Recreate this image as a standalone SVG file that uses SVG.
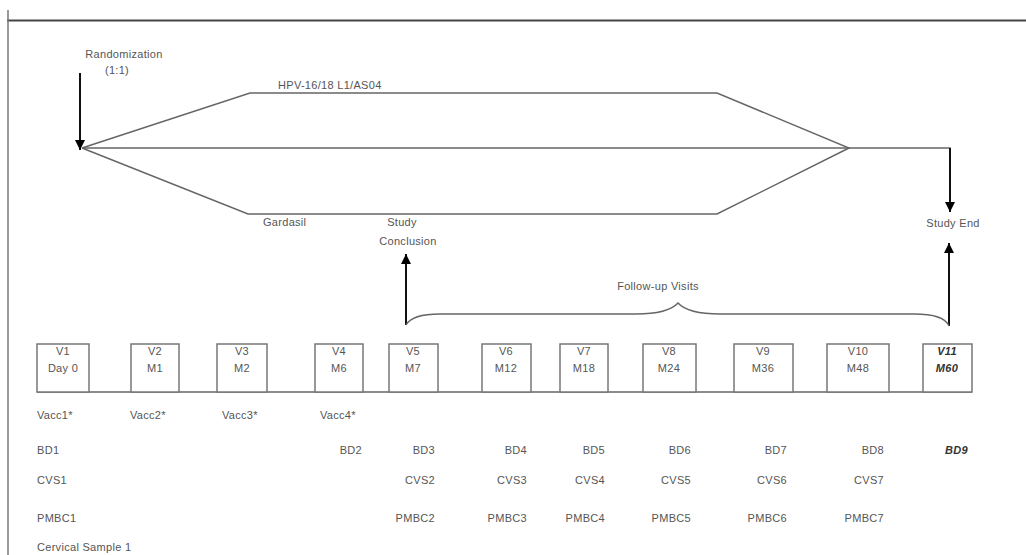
<svg xmlns="http://www.w3.org/2000/svg" width="1026" height="555" viewBox="0 0 1026 555">
<defs>
<marker id="ah" viewBox="0 0 10 10" refX="10" refY="5" markerWidth="5" markerHeight="5" orient="auto" markerUnits="strokeWidth">
<path d="M0,0 L10,5 L0,10 z" fill="#000"/>
</marker>
<style>
.t{font-family:"Liberation Sans",Arial,sans-serif;font-size:11px;fill:#555;letter-spacing:0.3px}
.c{text-anchor:middle}
.r{text-anchor:end}
.ln{fill:none;stroke:#666;stroke-width:1.5}
.ar{fill:none;stroke:#111;stroke-width:2;marker-end:url(#ah)}
.box{fill:#fff;stroke:#777;stroke-width:1.5}
.b{font-weight:bold;font-style:italic;fill:#333}
</style>
</defs>
<rect width="1026" height="555" fill="#fff"/>
<g id="frame">
<line x1="7" y1="20.5" x2="1026" y2="20.5" stroke="#444" stroke-width="2"/>
<line x1="8" y1="10" x2="8" y2="555" stroke="#777" stroke-width="1.5"/>
</g>
<g id="labels">
<text class="t c" x="124" y="58">Randomization</text>
<text class="t c" x="117" y="74">(1:1)</text>
<text class="t" x="278" y="89">HPV-16/18 L1/AS04</text>
<text class="t" x="263" y="226">Gardasil</text>
<text class="t c" x="402" y="226">Study</text>
<text class="t c" x="408" y="245">Conclusion</text>
<text class="t c" x="953" y="227">Study End</text>
<text class="t c" x="658" y="290">Follow-up Visits</text>
</g>
<g id="connectors">
<polyline class="ln" points="82,148 250,93 717,93 849,148 717,214 248,214 82,148"/>
<polyline class="ln" points="82,148 950,148 950,160"/>
<line class="ar" x1="80" y1="73" x2="80" y2="150"/>
<line class="ar" x1="950" y1="148" x2="950" y2="212"/>
<line class="ar" x1="406" y1="325" x2="406" y2="254"/>
<line class="ar" x1="949" y1="326" x2="949" y2="243"/>
<path class="ln" d="M406,325 Q412,314 440,314 L636,314 Q668,314 678,303 Q688,314 720,314 L914,314 Q944,314 949,326"/>
<line class="ln" x1="37" y1="392" x2="972" y2="392"/>
</g>
<g id="v1"><rect class="box" x="37" y="344" width="52" height="48"/><text class="t c" x="63" y="355">V1</text><text class="t c" x="63" y="372">Day 0</text></g>
<g id="v2"><rect class="box" x="131" y="344" width="48" height="48"/><text class="t c" x="155" y="355">V2</text><text class="t c" x="155" y="372">M1</text></g>
<g id="v3"><rect class="box" x="217" y="344" width="50" height="48"/><text class="t c" x="242" y="355">V3</text><text class="t c" x="242" y="372">M2</text></g>
<g id="v4"><rect class="box" x="315" y="344" width="48" height="48"/><text class="t c" x="339" y="355">V4</text><text class="t c" x="339" y="372">M6</text></g>
<g id="v5"><rect class="box" x="389" y="344" width="49" height="48"/><text class="t c" x="413" y="355">V5</text><text class="t c" x="413" y="372">M7</text></g>
<g id="v6"><rect class="box" x="482" y="344" width="49" height="48"/><text class="t c" x="506" y="355">V6</text><text class="t c" x="506" y="372">M12</text></g>
<g id="v7"><rect class="box" x="560" y="344" width="48" height="48"/><text class="t c" x="584" y="355">V7</text><text class="t c" x="584" y="372">M18</text></g>
<g id="v8"><rect class="box" x="643" y="344" width="53" height="48"/><text class="t c" x="669" y="355">V8</text><text class="t c" x="669" y="372">M24</text></g>
<g id="v9"><rect class="box" x="734" y="344" width="59" height="48"/><text class="t c" x="763" y="355">V9</text><text class="t c" x="763" y="372">M36</text></g>
<g id="v10"><rect class="box" x="827" y="344" width="62" height="48"/><text class="t c" x="858" y="355">V10</text><text class="t c" x="858" y="372">M48</text></g>
<g id="v11"><rect class="box" x="923" y="344" width="49" height="48"/><text class="t c b" x="947" y="355">V11</text><text class="t c b" x="947" y="372">M60</text></g>
<g id="rows">
<text class="t" x="37" y="419">Vacc1*</text>
<text class="t" x="130" y="419">Vacc2*</text>
<text class="t" x="222" y="419">Vacc3*</text>
<text class="t" x="320" y="419">Vacc4*</text>
<text class="t" x="37" y="454">BD1</text>
<text class="t r" x="362" y="454">BD2</text>
<text class="t r" x="435" y="454">BD3</text>
<text class="t r" x="527" y="454">BD4</text>
<text class="t r" x="605" y="454">BD5</text>
<text class="t r" x="691" y="454">BD6</text>
<text class="t r" x="787" y="454">BD7</text>
<text class="t r" x="884" y="454">BD8</text>
<text class="t r b" x="968" y="454">BD9</text>
<text class="t" x="37" y="484">CVS1</text>
<text class="t r" x="435" y="484">CVS2</text>
<text class="t r" x="527" y="484">CVS3</text>
<text class="t r" x="605" y="484">CVS4</text>
<text class="t r" x="691" y="484">CVS5</text>
<text class="t r" x="787" y="484">CVS6</text>
<text class="t r" x="884" y="484">CVS7</text>
<text class="t" x="37" y="522">PMBC1</text>
<text class="t r" x="435" y="522">PMBC2</text>
<text class="t r" x="527" y="522">PMBC3</text>
<text class="t r" x="605" y="522">PMBC4</text>
<text class="t r" x="691" y="522">PMBC5</text>
<text class="t r" x="787" y="522">PMBC6</text>
<text class="t r" x="884" y="522">PMBC7</text>
<text class="t" x="37" y="551">Cervical Sample 1</text>
</g>
</svg>
